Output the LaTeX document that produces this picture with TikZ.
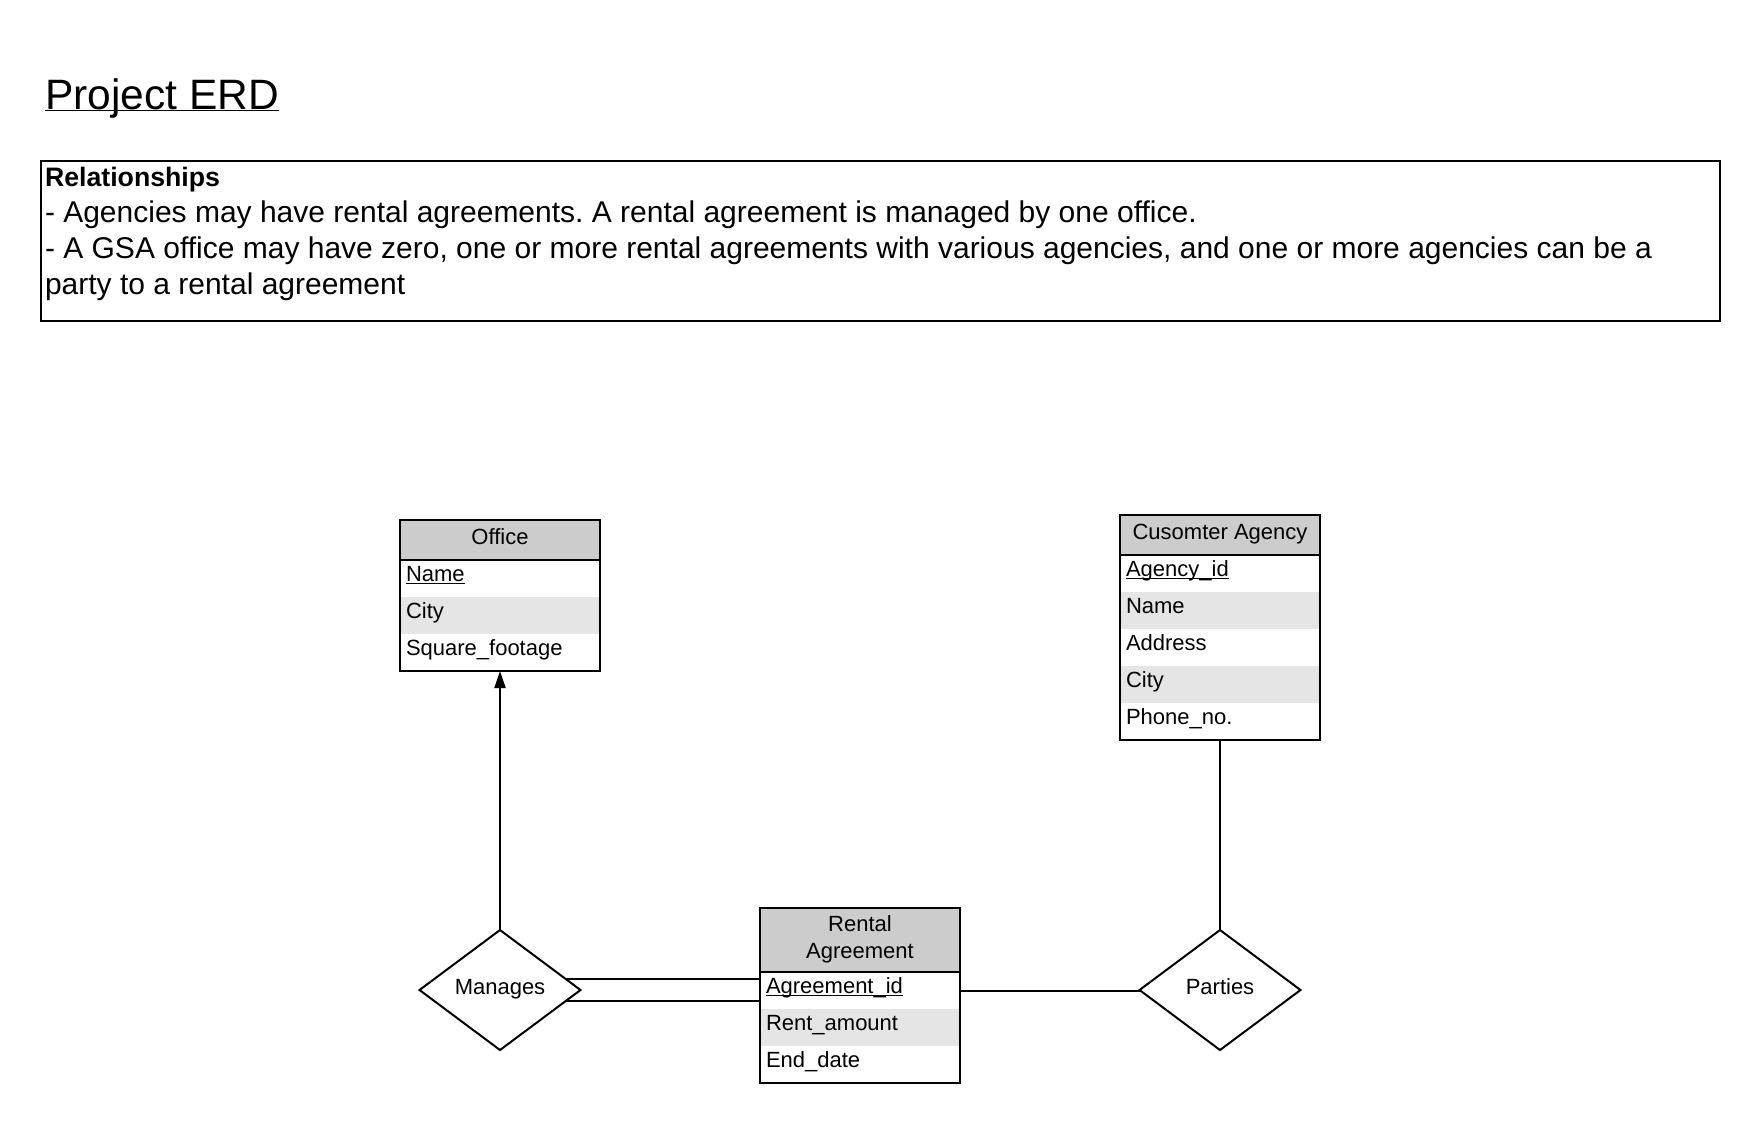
\documentclass[tikz,border=0pt]{standalone}
\usepackage{fontspec}
\setmainfont{Liberation Sans}
\usepackage{tikz}
\usetikzlibrary{positioning,shapes.geometric,arrows.meta,calc}
\definecolor{hdrgray}{HTML}{CCCCCC}
\definecolor{rowgray}{HTML}{E5E5E5}
\newcommand{\entfont}{\fontsize{22pt}{27pt}\selectfont}
\frenchspacing

\begin{document}
\begin{tikzpicture}[x=1pt, y=-1pt, line width=2pt,
    every node/.style={outer sep=0pt},
    hdr/.style={draw, fill=hdrgray, minimum width=200pt, minimum height=40pt, inner sep=0pt, align=center, font=\entfont, text depth=6pt},
    attr/.style={minimum height=37pt, inner xsep=6pt, inner ysep=0pt, text width=188pt, align=left, font=\entfont, text height=15pt, text depth=9pt, below=0pt of #1},
    rel/.style={draw, diamond, fill=white, minimum width=161pt, minimum height=120pt, inner sep=0pt, font=\entfont, text height=15pt, text depth=6pt}]
    \useasboundingbox (0,0) rectangle (1760,1124);

    \node[anchor=base west, inner sep=0pt, font=\fontsize{42.5pt}{50pt}\selectfont] (title) at (45,109) {\underbar{Project ERD}};
    \node[draw, minimum width=1679pt, minimum height=160pt, anchor=north west] (relbox) at (41,161) {};
    \node[anchor=north west, inner sep=0pt, align=left, font=\fontsize{30pt}{36pt}\selectfont] (reltext) at (45,167) {{\fontsize{26.7pt}{36pt}\selectfont\bfseries Relationships}\\- Agencies may have rental agreements. A rental agreement is managed by one office.\\- A GSA office may have zero, one or more rental agreements with various agencies, and one or more agencies can be a\\party to a rental agreement};

    \node[hdr] (office) at (500,540) {Office};
    \node[attr=office] (office1) {\underbar{Name}};
    \node[attr=office1, fill=rowgray] (office2) {City};
    \node[attr=office2] (office3) {Square\_footage};
    \draw (office.north west) rectangle (office3.south east);

    \node[hdr] (agency) at (1220,535) {Cusomter Agency};
    \node[attr=agency] (agency1) {\underbar{Agency\_id}};
    \node[attr=agency1, fill=rowgray] (agency2) {Name};
    \node[attr=agency2] (agency3) {Address};
    \node[attr=agency3, fill=rowgray] (agency4) {City};
    \node[attr=agency4] (agency5) {Phone\_no.};
    \draw (agency.north west) rectangle (agency5.south east);

    \node[hdr, minimum height=64pt] (rental) at (860,940) {Rental\\Agreement};
    \node[attr=rental] (rental1) {\underbar{Agreement\_id}};
    \node[attr=rental1, fill=rowgray] (rental2) {Rent\_amount};
    \node[attr=rental2] (rental3) {End\_date};
    \draw (rental.north west) rectangle (rental3.south east);

    \node[rel] (manages) at (500,990) {Manages};
    \node[rel] (parties) at (1220,990) {Parties};

    \draw[-{Triangle[length=17pt,width=11pt]}] (manages) -- (office3.south);
    \coordinate (m1) at ($(manages.east)!0.183!(manages.north)$);
    \coordinate (m2) at ($(manages.east)!0.183!(manages.south)$);
    \draw (m1) -- (m1 -| rental1.west);
    \draw (m2) -- (m2 -| rental1.west);
    \draw (rental1.east) -- (rental1.east -| parties.west);
    \draw (agency5.south) -- (parties);
\end{tikzpicture}
\end{document}
